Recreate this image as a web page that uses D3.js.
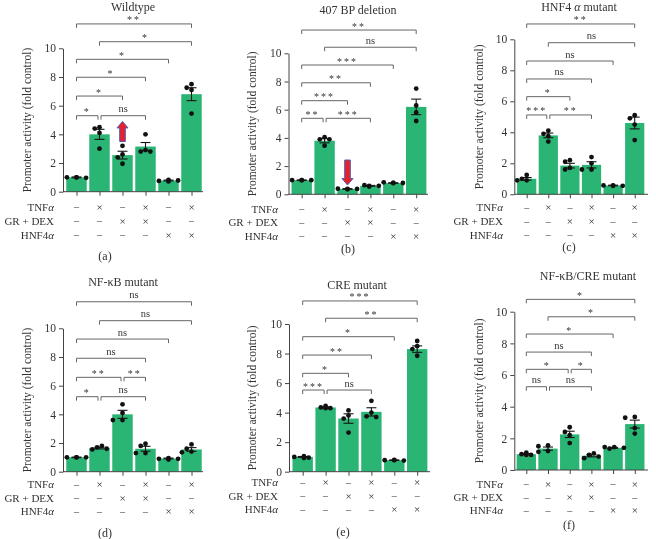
<!DOCTYPE html>
<html><head><meta charset="utf-8">
<script src="https://cdn.jsdelivr.net/npm/d3@7"></script>
<style>
body{margin:0;background:#fff}
svg{display:block}
text{font-family:"Liberation Serif","DejaVu Serif",serif;fill:#333}
</style>
</head><body>
<svg id="chart" width="656" height="539"><defs><filter id="gs" x="-10%" y="-10%" width="120%" height="120%"><feColorMatrix type="saturate" values="0"/></filter></defs></svg>
<script>
// ---------- data ----------
const titles = ["Wildtype", "407 BP deletion", "HNF4 α mutant", "NF-κB mutant", "CRE mutant", "NF-κB/CRE mutant"];
const tags = ["(a)", "(b)", "(c)", "(d)", "(e)", "(f)"];
const yTicks = [0, 2, 4, 6, 8, 10];
const yLabel = "Promoter activity (fold control)";
const rowLabels = ["TNFα", "GR + DEX", "HNF4α"];
const tnfRow = ["–", "×", "–", "×", "–", "×"];
const grRow  = ["–", "–", "×", "×", "–", "–"];
const hnfRow = ["–", "–", "–", "–", "×", "×"];

const meansA = [1.0, 4.0, 2.55, 3.15, 0.78, 6.8];
const semA   = [0.03, 0.35, 0.27, 0.28, 0.03, 0.45];
const pointsA = [[1.0,1.0,0.97,1.0],[4.5,4.4,4.1,3.0],[3.2,2.6,2.4,1.95],[4.0,2.9,2.8,2.8],[0.82,0.75,0.78,0.72],[7.5,7.25,7.1,5.45]];
const bracketsA = [[0,5,11.7,"**"],[1,5,10.46,"*"],[0,4,9.23,"*"],[0,3,7.98,"*"],[0,2,6.67,"*"],[0,1,5.3,"*"],[1,3,5.3,"ns"]];

const meansB = [1.0, 3.8, 0.38, 0.6, 0.8, 6.2];
const semB   = [0.02, 0.15, 0.02, 0.03, 0.02, 0.55];
const pointsB = [[1.0,1.0,1.0,1.0],[4.05,3.9,3.9,3.45],[0.35,0.4,0.38,0.38],[0.55,0.65,0.6,0.6],[0.8,0.85,0.8,0.8],[7.5,6.3,5.8,5.2]];
const bracketsB = [[0,5,11.65,"**"],[1,5,10.43,"ns"],[0,4,9.17,"***"],[0,3,7.91,"**"],[0,2,6.64,"***"],[0,1,5.39,"**"],[1,3,5.39,"***"]];

const meansC = [1.0, 3.8, 1.85, 1.9, 0.57, 4.6];
const semC   = [0.08, 0.15, 0.15, 0.2, 0.02, 0.38];
const pointsC = [[1.25,1.0,0.9,0.9],[4.1,3.9,3.75,3.4],[2.2,2.1,1.7,1.6],[2.4,2.0,1.6,1.6],[0.55,0.57,0.55,0.58],[5.1,4.9,4.5,3.5]];
const bracketsC = [[0,5,10.99,"**"],[1,5,9.78,"ns"],[0,4,8.6,"ns"],[0,3,7.44,"ns"],[0,2,6.3,"*"],[0,1,5.12,"***"],[1,3,5.12,"**"]];

const meansD = [1.0, 1.65, 4.0, 1.6, 0.92, 1.55];
const semD   = [0.02, 0.06, 0.28, 0.17, 0.03, 0.13];
const pointsD = [[1.0,1.0,1.0,1.0],[1.8,1.7,1.6,1.55],[4.7,4.1,3.6,3.6],[1.95,1.8,1.3,1.3],[0.95,0.9,0.9,0.85],[1.9,1.6,1.4,1.35]];
const bracketsD = [[0,5,11.85,"ns"],[1,5,10.53,"ns"],[0,4,9.25,"ns"],[0,3,7.91,"ns"],[0,2,6.58,"**"],[2,3,6.58,"**"],[0,1,5.23,"*"],[1,3,5.23,"ns"]];

const meansE = [1.0, 4.35, 3.6, 4.05, 0.78, 8.3];
const semE   = [0.03, 0.04, 0.32, 0.28, 0.02, 0.22];
const pointsE = [[1.05,1.0,0.95,0.92],[4.45,4.35,4.3,4.3],[4.15,3.8,3.6,2.65],[4.8,4.0,3.75,3.7],[0.8,0.78,0.75,0.78],[8.85,8.5,8.3,7.85]];
const bracketsE = [[0,5,11.56,"***"],[1,5,10.39,"**"],[0,4,9.14,"*"],[0,3,7.9,"**"],[0,2,6.66,"*"],[0,1,5.53,"***"],[1,3,5.53,"ns"]];

const meansF = [1.0, 1.35, 2.25, 0.9, 1.4, 2.9];
const semF   = [0.03, 0.1, 0.2, 0.07, 0.03, 0.25];
const pointsF = [[1.1,1.0,0.95,0.95],[1.55,1.5,1.2,1.15],[2.7,2.4,2.2,1.7],[1.05,0.95,0.85,0.75],[1.45,1.45,1.4,1.35],[3.35,3.3,2.65,2.3]];
const bracketsF = [[0,5,10.78,"*"],[1,5,9.68,"*"],[0,4,8.59,"*"],[0,3,7.45,"ns"],[0,2,6.36,"*"],[2,3,6.36,"*"],[0,1,5.26,"ns"],[1,3,5.26,"ns"]];

const arrowA = {bar: 2, from: 3.5, to: 4.9};
const arrowB = {bar: 2, from: 2.43, to: 0.66};

// ---------- layout (positions & styles) ----------
const panels = [
  {means: meansA, sem: semA, pts: pointsA, br: bracketsA, arrow: arrowA},
  {means: meansB, sem: semB, pts: pointsB, br: bracketsB, arrow: arrowB},
  {means: meansC, sem: semC, pts: pointsC, br: bracketsC},
  {means: meansD, sem: semD, pts: pointsD, br: bracketsD},
  {means: meansE, sem: semE, pts: pointsE, br: bracketsE},
  {means: meansF, sem: semF, pts: pointsF, br: bracketsF}
];
const layout = [
  {ax:63,    xEnd:203, y0:191.7, y10:48.3, c0:76.5,  step:23.0, rows:[206.5,220.5,234.5], labR:54,  title:[133,7],   tag:[105,256], ylx:27},
  {ax:288.5, xEnd:428, y0:194.3, y10:53.3, c0:301.7, step:22.9, rows:[208.5,222,235.5],   labR:278, title:[358,9.5], tag:[348,249], ylx:252},
  {ax:514.3, xEnd:648, y0:194.3, y10:39.3, c0:526.7, step:21.6, rows:[207,221,234.5],     labR:503, title:[579,7],   tag:[569,247], ylx:479},
  {ax:63,    xEnd:203, y0:471.7, y10:328.3, c0:76.5, step:23.0, rows:[484,497.5,511],     labR:54,  title:[123,282], tag:[105,533], ylx:27},
  {ax:289,   xEnd:430, y0:471.7, y10:324,  c0:302.7, step:22.9, rows:[482,495.5,509],     labR:278, title:[357,285], tag:[343,532], ylx:252},
  {ax:514.3, xEnd:648, y0:470,   y10:311.7, c0:526.3, step:21.7, rows:[483.5,497,510],    labR:503, title:[588,276], tag:[569,525], ylx:479}
];
const BAR = "#2bb574", AX = "#444", BRK = "#666";
const FS = 12;

const svg = d3.select("#chart");

function addAlphaText(sel, str) {
  const parts = str.split("α");
  parts.forEach((p, i) => {
    if (p) sel.append("tspan").text(p);
    if (i < parts.length - 1) sel.append("tspan").attr("font-style", "italic").text("α");
  });
}

panels.forEach((P, pi) => {
  const L = layout[pi];
  const g = svg.append("g");
  const tg = svg.append("g").attr("filter", "url(#gs)"); // text layer rendered in grayscale
  const y = d3.scaleLinear().domain([0, 10]).range([L.y0, L.y10]);
  const x = d3.scalePoint().domain(d3.range(6)).range([L.c0, L.c0 + 5 * L.step]);
  const bw = L.step * 0.89;

  g.selectAll("rect.bar").data(P.means).join("rect")
    .attr("x", (d, i) => x(i) - bw / 2).attr("width", bw)
    .attr("y", d => y(d)).attr("height", d => y(0) - y(d))
    .attr("fill", BAR);

  const ya = tg.append("g").attr("transform", `translate(${L.ax},0)`)
    .call(d3.axisLeft(y).tickValues(yTicks).tickSize(4).tickSizeOuter(0).tickPadding(3));
  ya.attr("font-family", null).attr("font-size", null);
  ya.selectAll("path,line").attr("stroke", AX);
  ya.selectAll("text").attr("font-size", 11.5).attr("fill", "#333");

  const xa = g.append("g").attr("transform", `translate(0,${L.y0})`)
    .call(d3.axisBottom(x).tickSize(4).tickFormat(""));
  xa.select(".domain").attr("d", `M${L.ax},0H${L.xEnd}`);
  xa.selectAll("path,line").attr("stroke", AX);

  tg.append("text")
    .attr("transform", `translate(${L.ylx},${(y(0) + y(10)) / 2}) rotate(-90)`)
    .attr("text-anchor", "middle").attr("dominant-baseline", "central")
    .attr("font-size", 11.5).text(yLabel);

  const t = tg.append("text").attr("x", L.title[0]).attr("y", L.title[1])
    .attr("text-anchor", "middle").attr("dominant-baseline", "central").attr("font-size", FS);
  addAlphaText(t, titles[pi]);

  tg.append("text").attr("x", L.tag[0]).attr("y", L.tag[1])
    .attr("text-anchor", "middle").attr("dominant-baseline", "central")
    .attr("font-size", 12).text(tags[pi]);

  [tnfRow, grRow, hnfRow].forEach((row, ri) => {
    const lt = tg.append("text").attr("x", L.labR).attr("y", L.rows[ri])
      .attr("text-anchor", "end").attr("dominant-baseline", "central").attr("font-size", 11);
    addAlphaText(lt, rowLabels[ri]);
    tg.selectAll(null).data(row).join("text")
      .attr("x", (d, i) => x(i)).attr("y", L.rows[ri])
      .attr("text-anchor", "middle").attr("dominant-baseline", "central")
      .attr("font-size", d => d === "×" ? 11 : 10).attr("fill", "#555").text(d => d);
  });

  const eb = g.append("g").attr("stroke", "#151515").attr("stroke-width", 1.1);
  P.means.forEach((m, i) => {
    const s = P.sem[i], cx = x(i);
    eb.append("line").attr("x1", cx).attr("x2", cx).attr("y1", y(m - s)).attr("y2", y(m + s));
    eb.append("line").attr("x1", cx - 5).attr("x2", cx + 5).attr("y1", y(m - s)).attr("y2", y(m - s));
    eb.append("line").attr("x1", cx - 5).attr("x2", cx + 5).attr("y1", y(m + s)).attr("y2", y(m + s));
  });

  const r = 2.4, dd = 4.8;
  P.pts.forEach((arr, i) => {
    const placed = [];
    const offs = [0, -dd, dd, -2 * dd, 2 * dd];
    arr.forEach(v => {
      const py = y(v);
      let ox = 0;
      for (const o of offs) {
        if (placed.every(p => Math.hypot(p[0] - o, p[1] - py) >= 2 * r + 0.2)) { ox = o; break; }
      }
      placed.push([ox, py]);
    });
    const mean = d3.mean(placed, p => p[0]);
    const allSame = placed.every(p => Math.abs(p[1] - placed[0][1]) < 2 * r);
    placed.forEach(p => {
      g.append("circle").attr("cx", x(i) + p[0] - (allSame ? mean : 0)).attr("cy", p[1])
        .attr("r", r).attr("fill", "#111");
    });
  });

  P.br.forEach(b => {
    const [i, j, lv, lab] = b;
    const shareL = P.br.some(o => o !== b && o[2] === lv && o[1] === i);
    const shareR = P.br.some(o => o !== b && o[2] === lv && o[0] === j);
    const x1 = x(i) + (shareL ? 1.5 : 0), x2 = x(j) - (shareR ? 1.5 : 0);
    const yy = y(lv);
    g.append("path").attr("d", `M${x1},${yy + 4}V${yy}H${x2}V${yy + 4}`)
      .attr("fill", "none").attr("stroke", BRK).attr("stroke-width", 1);
    tg.append("text").attr("x", (x1 + x2) / 2).attr("y", yy - (lab === "ns" ? 3.5 : 0.5))
      .attr("text-anchor", "middle").attr("font-size", lab === "ns" ? 10.5 : 10)
      .attr("letter-spacing", lab === "ns" ? 0 : 2).attr("fill", "#555").text(lab);
  });

  if (P.arrow) {
    const A = P.arrow, cx = x(A.bar);
    const yt = y(A.to), yb = y(A.from);
    const dir = yt < yb ? 1 : -1;
    const hl = 6.5 * dir, sw = 2.8, hw = 5.5;
    const yh = yt + hl;
    const d = `M${cx},${yt}L${cx + hw},${yh}L${cx + sw},${yh}L${cx + sw},${yb}L${cx - sw},${yb}L${cx - sw},${yh}L${cx - hw},${yh}Z`;
    g.append("path").attr("d", d).attr("fill", "#e8202a").attr("stroke", "#4d5cb5").attr("stroke-width", 1);
  }
});
</script>
</body></html>
